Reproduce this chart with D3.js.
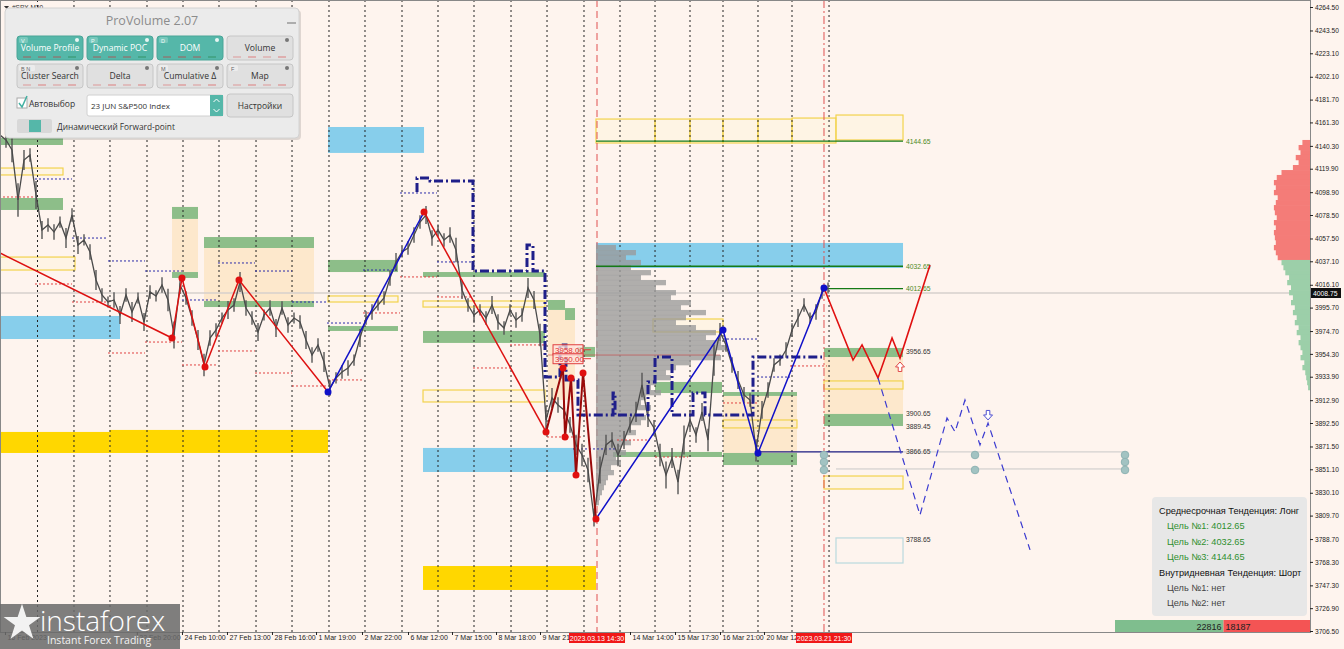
<!DOCTYPE html>
<html><head><meta charset="utf-8">
<script src="https://cdn.jsdelivr.net/npm/d3@7"></script>
<style>body{margin:0;background:#fef4ee;overflow:hidden}svg{display:block}</style>
</head><body><svg id="c" width="1344" height="649"></svg>
<script>
// ---------- DATA ----------
const yTicks=[4264.50,4243.50,4223.10,4202.10,4181.70,4161.30,4140.30,4119.90,4098.90,4078.50,4057.50,4037.10,4016.10,3995.70,3974.70,3954.30,3933.90,3912.90,3892.50,3871.50,3851.10,3830.10,3809.70,3788.70,3768.30,3747.30,3726.90,3706.50];
const timeTickPos=[0.83,22.8,30.33,37.83,45.33,52.67,60.33,68,75.33,82.67,90,105,112.5,120,127.33];
const timeTickText=["16 Feb 2023","22 Feb 20:00","24 Feb 10:00","27 Feb 13:00","28 Feb 16:00","1 Mar 19:00","2 Mar 22:00","6 Mar 12:00","7 Mar 15:00","8 Mar 18:00","9 Mar 21:00","14 Mar 14:00","15 Mar 17:30","16 Mar 21:00","20 Mar 12:00"];
const highlightPos=[99.5,137.33];
const highlightText=["2023.03.13 14:30","2023.03.21 21:30"];
const daySeps=[6.25,12.33,18.33,24.5,30.5,36.5,42.67,48.67,54.83,60.83,67,73,79,85.17,91.17,97.33,103.33,109.17,115,120.5,126.33,132,138.17];
const prices=[4150.0,4145.6,4136.6,4091.9,4127.7,4132.2,4096.4,4065.1,4069.6,4063.3,
4072.2,4057.9,4078.5,4051.7,4056.2,4045.4,4020.4,4007.0,4000.7,4002.5,
3989.1,4007.0,3991.8,4004.3,3982.8,4009.7,4006.1,4015.9,4002.5,3971.2,
4015.9,4004.3,3986.4,3966.7,3944.4,3968.5,3975.7,3986.4,3993.6,3998.0,
4018.6,3995.3,3986.4,3973.9,3989.1,3995.3,3977.5,3995.3,3980.1,3986.4,
3982.8,3966.7,3953.3,3962.3,3947.0,3923.8,3932.8,3938.1,3941.7,3948.8,
3968.5,3986.4,3991.8,3998.0,4004.3,4022.2,4036.5,4045.4,4049.0,4060.6,
4072.2,4078.5,4057.9,4065.1,4056.2,4060.6,4047.2,4011.4,3998.0,3989.1,
3993.6,3986.4,3998.0,3982.8,3977.5,3993.6,3984.6,3989.1,4013.2,4002.5,
3971.2,3895.2,3914.9,3908.6,3904.2,3890.8,3872.9,3863.9,3850.5,3808.0,
3850.5,3872.9,3877.3,3863.9,3877.3,3890.8,3902.4,3926.5,3897.0,3888.1,
3863.9,3846.0,3861.2,3839.7,3877.3,3895.2,3881.8,3902.4,3877.3,3948.8,
3974.0,3962.3,3944.4,3931.0,3917.6,3913.1,3868.0,3904.2,3922.0,3944.4,
3948.8,3957.8,3975.7,3986.4,3998.0,3986.4,3991.8,4009.7,4013.2];
const spreads=[10,14,22,30,18,12,25,16,12,14,
10,18,12,16,10,14,18,12,10,14,
16,12,18,10,16,12,10,14,20,24,
16,12,14,18,20,14,12,10,16,12,
18,14,12,16,10,14,16,12,14,10,
12,16,14,12,18,14,10,12,14,10,
16,12,14,10,12,14,16,10,12,14,
12,16,14,10,12,14,22,16,12,14,
10,12,16,14,12,10,14,12,18,16,
20,26,18,14,16,14,18,20,22,16,
24,18,14,20,16,14,18,22,16,14,
20,24,18,22,26,18,14,16,20,28,
16,12,14,16,14,12,20,16,14,12,
10,14,12,16,12,10,14,12,10];
const currentPrice=4008.75;
const greenZones=[[0,10.5,4147.4,4141.1],[0,10.5,4093.7,4083.0],[28.67,33,4085.7,4075.0],[28.67,33,4027.5,4022.2],[34,52.33,4058.8,4049.0],[34,52.33,4001.6,3996.2],[54.67,66.33,4038.3,4027.5],[54.67,66.33,3979.2,3974.8],[70.5,90.83,4027.5,4023.1],[70.5,90.83,3974.8,3964.1],[91.33,94.17,4002.5,3993.6],[94.17,95.83,3995.3,3984.6],[96.17,99.17,3960.5,3951.5],[109.17,120.33,3929.2,3919.3],[102.17,120.33,3866.6,3862.1],[120.5,132.83,3920.2,3916.7],[120.5,132.83,3865.7,3854.9],[137.33,150.5,3959.6,3951.5],[137.33,150.5,3900.6,3889.8]];
const beigeZones=[[28.67,33,4075.0,4027.5],[34,52.33,4049.0,4001.6],[91.33,95.83,3993.6,3913.1],[120.5,132.83,3916.7,3865.7],[137.33,150.5,3951.5,3900.6]];
const blueZones=[[0,20,3988.2,3967.6],[54.67,70.67,4157.2,4134.0],[70.5,95.83,3870.2,3848.7],[99.33,150.5,4053.5,4031.1]];
const goldZones=[[0,18.3,3884.5,3865.7],[18.3,54.67,3886.3,3865.7],[70.5,99.33,3764.6,3743.2]];
const yellowBoxes=[[0,10.5,4120.5,4114.3],[0,12.5,4040.9,4029.3],[54.67,66.33,4006.1,4000.7],[70.5,90.83,4001.6,3996.2],[70.5,90.83,3922.0,3911.3],[99.33,109.17,4164.3,4142.9],[109.17,115,4164.3,4142.9],[115,120.5,4164.3,4142.9],[120.5,126.33,4164.3,4142.9],[126.33,132,4164.3,4142.9],[132,139.33,4165.2,4142.9],[139.33,150.5,4167.9,4145.6],[108.83,120.5,3985.5,3973.9],[120.5,132.83,3895.2,3888.1],[137.33,150.5,3930.1,3922.9],[137.33,150.5,3845.1,3833.5]];
const lightBlueBoxes=[[139.33,150.5,3789.7,3767.3]];
const levelLines=[[99.33,150.5,4144.65],[99.33,150.5,4032.65],[137.33,150.5,4012.65]];
const navyLevel=[126.33,150.5,3866.65];
const greyExt=[[150.5,187.5,3866.65],[139.33,187.5,3851.4]];
const levelLabelVals=[4144.65,4032.65,4012.65,3956.65,3900.65,3889.45,3866.65,3788.65];
const levelLabelGreen=[true,true,true,false,false,false,false,false];
const tealDots=[[137.33,3863.9],[137.33,3857.6],[137.33,3850.5],[162.5,3863.9],[162.5,3850.5],[187.5,3863.9],[187.5,3857.6],[187.5,3850.5]];
const blueDotted=[[5.83,12,4110.7],[12,18,4057.9],[18,24.17,4037.4],[24.17,30.33,4028.4],[30.33,36.33,4002.5],[36.33,42.5,4035.6],[42.5,48.67,4028.4],[48.67,54.67,4000.7],[54.5,60.5,3981.9],[60.5,66.33,4029.3],[66.67,72.83,4098.2],[72.83,78.83,4036.5],[95.5,102.83,3869.3],[120.5,126.17,3967.6],[126.17,131.67,3933.6]];
const redDotted=[[0.5,5.83,4094.6],[5.83,12,4016.8],[12,18,4000.7],[18,24.17,3955.1],[24.17,30.33,3964.9],[30.33,36.33,3944.4],[36.33,42.5,3956.9],[42.5,48.67,3937.2],[48.67,54.67,3925.6],[54.67,60.5,3931.0],[60.5,66.67,3990.9],[66.67,72.83,4023.1],[72.83,78.83,4005.2],[78.83,85,3941.7],[85,91.17,3962.3],[91.17,97.17,3880.0],[131.67,137.83,3943.5],[102.83,108.33,3877.3],[109.17,114.67,3862.1],[120.5,126.17,3910.4]];
const redZig1=[[0,4044.5],[28.67,3968.5],[30.33,4022.2],[34.17,3942.6],[39.83,4020.4],[54.67,3920.2]];
const blueZig1=[[54.67,3920.2],[70.67,4081.2]];
const redZig2=[[70.67,4081.2],[91,3884.5]];
const darkZig=[[91,3884.5],[93.83,3941.7],[94.17,3880.0],[95.17,3932.8],[96,3846.0],[97.17,3937.2],[99.33,3806.7]];
const blueZig2=[[99.33,3806.7],[120.5,3975.7],[126.33,3865.7],[137.33,4013.2]];
const redDots=[[28.67,3968.5],[30.33,4022.2],[34.17,3942.6],[39.83,4020.4],[70.67,4081.2],[91,3884.5],[93.83,3941.7],[94.17,3880.0],[95.17,3932.8],[96,3846.0],[97.17,3937.2],[99.33,3806.7]];
const blueDots=[[54.67,3920.2],[120.5,3975.7],[126.33,3865.7],[137.33,4013.2]];
const projRed=[[137.33,4013.2],[142.17,3948.8],[143.67,3962.3],[146.33,3932.8],[148.67,3968.5],[150,3950.6],[155,4033.8]];
const projBlue=[[146.33,3932.8],[153.33,3810.3],[157.83,3897.0],[159.17,3884.5],[160.83,3913.1],[163.33,3872.9],[164.67,3892.5],[171.67,3779.0]];
const upArrow=[150,3942.6], downArrow=[164.67,3899.7];
const pocLine=[[69.5,4099.1],[69.5,4111.6],[71.67,4111.6],[71.67,4108.9],[78.83,4108.9],[78.83,4028.4],[87.83,4028.4],[87.83,4051.7],[88.83,4051.7],[88.83,4028.4],[90.83,4028.4],[90.83,3933.6],[93.33,3933.6],[93.33,3962.3],[94.33,3962.3],[94.33,3931.0],[96.33,3931.0],[96.33,3899.7],[102.17,3899.7],[102.17,3919.3],[102.5,3919.3],[102.5,3899.7],[108,3899.7],[108,3929.2],[109.17,3929.2],[109.17,3951.5],[112,3951.5],[112,3899.7],[115.5,3899.7],[115.5,3919.3],[117.5,3919.3],[117.5,3899.7],[125.5,3899.7],[125.5,3951.5],[137,3951.5]];
const pocRed=[91.33,120,3953.3];
const redTags=[3958.00,3950.00];
const vpPrices=[4051.7,4047.2,4042.8,4038.3,4033.8,4029.3,4024.9,4020.4,4015.9,4011.4,4007.0,4002.5,3998.0,3993.6,3989.1,3984.6,3980.1,3975.7,3971.2,3966.7,3962.3,3957.8,3953.3,3948.8,3944.4,3939.9,3935.4,3931.0,3926.5,3922.0,3917.6,3913.1,3908.6,3904.2,3899.7,3895.2,3890.8,3886.3,3881.8,3877.3,3872.9,3868.4,3863.9,3859.5,3855.0,3850.5,3846.0,3841.6,3837.1,3832.6,3828.2,3823.7];
const vpVol=[20,40,30,45,35,55,45,70,60,80,75,95,85,110,90,80,100,120,110,125,130,120,125,95,80,70,75,60,55,65,50,45,55,40,50,45,35,40,30,35,25,30,20,25,15,18,12,10,8,6,4,3];
const rightPrices=[4145.6,4141.1,4136.6,4132.2,4127.7,4123.2,4118.7,4114.3,4109.8,4105.3,4100.9,4096.4,4091.9,4087.4,4083.0,4078.5,4074.0,4069.6,4065.1,4060.6,4056.2,4051.7,4047.2,4042.8,4038.3,4033.8,4029.3,4024.9,4020.4,4015.9,4011.4,4007.0,4002.5,3998.0,3993.6,3989.1,3984.6,3980.1,3975.7,3971.2,3966.7,3962.3,3957.8,3953.3,3948.8,3944.4,3939.9,3935.4,3931.0,3926.5];
const rightVol=[8,12,10,15,12,18,30,35,38,36,38,34,36,38,37,35,38,36,38,37,36,38,36,34,30,28,26,22,24,20,22,18,20,16,18,14,16,12,14,10,12,10,8,10,6,8,5,4,3,2];
const buyVol=22816, sellVol=18187;
const infoLines=[["Среднесрочная Тенденция: Лонг","#111",0],["Цель №1: 4012.65","#2f8f2f",1],["Цель №2: 4032.65","#2f8f2f",1],["Цель №3: 4144.65","#2f8f2f",1],["Внутридневная Тенденция: Шорт","#111",0],["Цель №1: нет","#444",1],["Цель №2: нет","#444",1]];
const panelButtons=[{t:"Volume Profile",k:"V",on:1},{t:"Dynamic POC",k:"P",on:1},{t:"DOM",k:"D",on:1},{t:"Volume",k:"",on:0},{t:"Cluster Search",k:"B  N",on:0},{t:"Delta",k:"",on:0},{t:"Cumulative Δ",k:"M",on:0},{t:"Map",k:"F",on:0}];

// ---------- SETUP ----------
const svg=d3.select("#c");
const W=1310, H=632;
const x=d3.scaleLinear().domain([0,218.33]).range([0,W]);
const y=d3.scaleLinear().domain([3706.5,4264.5]).range([631,7]);
const F="Liberation Sans, Arial, sans-serif";
svg.append("rect").attr("width",1344).attr("height",649).attr("fill","#fef4ee");
const plot=svg.append("g");

function rects(data,fill,stroke,op){
  plot.append("g").selectAll("rect").data(data).join("rect")
   .attr("x",d=>x(d[0])).attr("width",d=>x(d[1])-x(d[0]))
   .attr("y",d=>y(d[2])).attr("height",d=>y(d[3])-y(d[2]))
   .attr("fill",fill).attr("stroke",stroke||"none").attr("stroke-width",1.2).attr("opacity",op||1);
}
rects(beigeZones,"#fde8cc");
rects(greenZones,"#8dbe89");
rects(blueZones,"#87ceeb");
rects(goldZones,"#ffd700");
rects(yellowBoxes,"rgba(255,245,200,0.25)","#f2d34d");
rects(lightBlueBoxes,"none","#b9d9de");

// day separators
plot.append("g").selectAll("line").data(daySeps).join("line")
 .attr("x1",d=>x(d)).attr("x2",d=>x(d)).attr("y1",0).attr("y2",H)
 .attr("stroke","#222").attr("stroke-width",1).attr("stroke-dasharray","2,3");
plot.append("line").attr("x1",x(highlightPos[0])).attr("x2",x(highlightPos[0])).attr("y1",0).attr("y2",H)
 .attr("stroke","#e05050").attr("stroke-dasharray","7,4");
plot.append("line").attr("x1",x(highlightPos[1])).attr("x2",x(highlightPos[1])).attr("y1",0).attr("y2",H)
 .attr("stroke","#e05050").attr("stroke-dasharray","8,3,2,3");

plot.append("line").attr("x1",0).attr("x2",W).attr("y1",y(currentPrice)).attr("y2",y(currentPrice))
 .attr("stroke","#d6d0cc").attr("stroke-width",1.6);

// volume profile
const vpx=d3.scaleLinear().domain([0,130]).range([0,130]);
plot.append("g").selectAll("rect").data(vpPrices).join("rect")
 .attr("x",x(99.33)).attr("y",d=>y(d)).attr("height",d=>y(d-4.47)-y(d)+0.3)
 .attr("width",(d,i)=>vpx(vpVol[i])).attr("fill","#9a9a9a").attr("opacity",0.78);
plot.append("line").attr("x1",x(pocRed[0])).attr("x2",x(pocRed[1])).attr("y1",y(pocRed[2])).attr("y2",y(pocRed[2]))
 .attr("stroke","#d04040").attr("stroke-width",0.8).attr("opacity",0.7);

function dotted(data,col){
  plot.append("g").selectAll("line").data(data).join("line")
   .attr("x1",d=>x(d[0])).attr("x2",d=>x(d[1])).attr("y1",d=>y(d[2])).attr("y2",d=>y(d[2]))
   .attr("stroke",col).attr("stroke-width",1).attr("stroke-dasharray","2,2");
}
dotted(blueDotted,"#2a2aa8"); dotted(redDotted,"#e04040");

plot.append("g").selectAll("line").data(levelLines).join("line")
 .attr("x1",d=>x(d[0])).attr("x2",d=>x(d[1])).attr("y1",d=>y(d[2])).attr("y2",d=>y(d[2]))
 .attr("stroke","#167a16").attr("stroke-width",1.3);
plot.append("g").selectAll("line").data(greyExt).join("line")
 .attr("x1",d=>x(d[0])).attr("x2",d=>x(d[1])).attr("y1",d=>y(d[2])).attr("y2",d=>y(d[2]))
 .attr("stroke","#c8c8c8").attr("stroke-width",1);
plot.append("line").attr("x1",x(navyLevel[0])).attr("x2",x(navyLevel[1])).attr("y1",y(navyLevel[2])).attr("y2",y(navyLevel[2]))
 .attr("stroke","#1a1a80").attr("stroke-width",1.4);
plot.append("g").selectAll("text").data(levelLabelVals).join("text")
 .attr("x",x(151)).attr("y",d=>y(d)+2.5).text(d=>d.toFixed(2))
 .attr("font-family",F).attr("font-size",6.8).attr("fill",(d,i)=>levelLabelGreen[i]?"#4e8a1e":"#333");

// price: bar ranges + close line
plot.append("g").selectAll("line").data(prices).join("line")
 .attr("x1",(d,i)=>x(i)).attr("x2",(d,i)=>x(i))
 .attr("y1",(d,i)=>y(d+spreads[i]/2)).attr("y2",(d,i)=>y(d-spreads[i]/2))
 .attr("stroke","#555").attr("stroke-width",1.4);
const line=d3.line().x(d=>x(d[0])).y(d=>y(d[1]));
plot.append("path").datum(prices.map((p,i)=>[i,p])).attr("d",line)
 .attr("fill","none").attr("stroke","#4a4a4a").attr("stroke-width",1.3);

plot.append("path").datum(pocLine).attr("d",line).attr("fill","none")
 .attr("stroke","#1f1f8a").attr("stroke-width",3).attr("stroke-dasharray","9,3,2,3");

function zz(data,col,w,dash){
  plot.append("path").datum(data).attr("d",line).attr("fill","none").attr("stroke",col)
   .attr("stroke-width",w).attr("stroke-dasharray",dash||null);
}
zz(redZig1,"#dd1111",1.5); zz(blueZig1,"#1010c8",1.5); zz(redZig2,"#dd1111",1.5);
zz(darkZig,"#9a0a0a",2); zz(blueZig2,"#1010c8",1.5);
zz(projRed,"#e01010",1.6); zz(projBlue,"#3a3ad0",1.2,"7,5");
plot.append("g").selectAll("circle").data(redDots).join("circle")
 .attr("cx",d=>x(d[0])).attr("cy",d=>y(d[1])).attr("r",3.5).attr("fill","#e01010");
plot.append("g").selectAll("circle").data(blueDots).join("circle")
 .attr("cx",d=>x(d[0])).attr("cy",d=>y(d[1])).attr("r",3.5).attr("fill","#1010c8");
const arr="M0,-5L4.5,0L1.8,0L1.8,4.5L-1.8,4.5L-1.8,0L-4.5,0Z";
plot.append("path").attr("d",arr).attr("transform",`translate(${x(upArrow[0])},${y(upArrow[1])})`)
 .attr("fill","#fff").attr("stroke","#e04848").attr("stroke-width",1);
plot.append("path").attr("d",arr).attr("transform",`translate(${x(downArrow[0])},${y(downArrow[1])}) rotate(180)`)
 .attr("fill","#fff").attr("stroke","#5050d0").attr("stroke-width",1);
plot.append("g").selectAll("circle").data(tealDots).join("circle")
 .attr("cx",d=>x(d[0])).attr("cy",d=>y(d[1])).attr("r",3.8).attr("fill","#a2c3c2").attr("stroke","#8fb3b3");
const tg=plot.append("g").selectAll("g").data(redTags).join("g");
tg.append("rect").attr("x",x(92.17)).attr("width",x(97.17)-x(92.17)).attr("y",d=>y(d)-5).attr("height",10)
 .attr("fill","rgba(255,225,220,0.75)").attr("stroke","#e04040");
tg.append("line").attr("x1",x(97.17)).attr("x2",x(98.5)).attr("y1",d=>y(d)).attr("y2",d=>y(d)).attr("stroke","#e04040");
tg.append("text").attr("x",x(92.17)+2).attr("y",d=>y(d)+3).text(d=>d.toFixed(2))
 .attr("font-family",F).attr("font-size",8).attr("fill","#e03030");

const rvx=d3.scaleLinear().domain([0,40]).range([0,38]);
plot.append("g").selectAll("rect").data(rightPrices).join("rect")
 .attr("x",(d,i)=>W-rvx(rightVol[i])).attr("width",(d,i)=>rvx(rightVol[i]))
 .attr("y",d=>y(d)).attr("height",d=>y(d-4.47)-y(d)+0.3)
 .attr("fill",d=>d>=4040?"#f47c78":"#9ccfa9");

// info box
svg.append("rect").attr("x",1152).attr("y",497).attr("width",155).attr("height",119).attr("rx",4).attr("fill","#e7e7e7");
svg.append("g").selectAll("text").data(infoLines).join("text")
 .attr("x",d=>d[2]?1167:1159).attr("y",(d,i)=>514+i*15.4).text(d=>d[0])
 .attr("font-family",F).attr("font-size",9.2).attr("fill",d=>d[1]);
const vx=d3.scaleLinear().domain([0,buyVol+sellVol]).range([0,195]);
svg.append("rect").attr("x",1115).attr("y",620).attr("width",vx(buyVol)).attr("height",12).attr("fill","#7fbe8e");
svg.append("rect").attr("x",1115+vx(buyVol)).attr("y",620).attr("width",vx(sellVol)).attr("height",12).attr("fill","#f45454");
svg.append("text").attr("x",1115+vx(buyVol)-2).attr("y",630).attr("text-anchor","end").text(buyVol)
 .attr("font-family",F).attr("font-size",9).attr("fill","#222");
svg.append("text").attr("x",1115+vx(buyVol)+2).attr("y",630).text(sellVol)
 .attr("font-family",F).attr("font-size",9).attr("fill","#222");

// axes
svg.append("line").attr("x1",W+0.5).attr("x2",W+0.5).attr("y1",0).attr("y2",H).attr("stroke","#222");
svg.append("line").attr("x1",0).attr("x2",W).attr("y1",H+0.5).attr("y2",H+0.5).attr("stroke","#222");
svg.append("rect").attr("x",0.5).attr("y",0.5).attr("width",W).attr("height",H).attr("fill","none").attr("stroke","#888");
const ya=svg.append("g").attr("transform",`translate(${W},0)`)
 .call(d3.axisRight(y).tickValues(yTicks).tickFormat(d3.format(".2f")).tickSize(3).tickPadding(2));
ya.select(".domain").remove();
ya.selectAll("text").attr("font-family",F).attr("font-size",6.6).attr("fill","#222");
ya.selectAll("line").attr("stroke","#222");
svg.append("rect").attr("x",W+1).attr("y",y(currentPrice)-5).attr("width",30).attr("height",10).attr("fill","#111");
svg.append("text").attr("x",W+3).attr("y",y(currentPrice)+2.5).text(currentPrice.toFixed(2))
 .attr("font-family",F).attr("font-size",6.8).attr("fill","#fff");

const xa=svg.append("g").attr("transform",`translate(0,${H})`)
 .call(d3.axisBottom(x).tickValues(timeTickPos).tickFormat((d,i)=>timeTickText[i]).tickSize(3));
xa.select(".domain").remove();
xa.selectAll("text").attr("text-anchor","start").attr("x",2).attr("y",3).attr("dy","0.71em")
 .attr("font-family",F).attr("font-size",7).attr("fill","#222");
xa.selectAll("line").attr("stroke","#222");
const hl=svg.append("g").selectAll("g").data(highlightPos).join("g");
hl.append("rect").attr("x",d=>x(d)-28).attr("y",H+1).attr("width",56).attr("height",10).attr("fill","#f01818");
hl.append("text").attr("x",d=>x(d)).attr("y",H+9).attr("text-anchor","middle").text((d,i)=>highlightText[i])
 .attr("font-family",F).attr("font-size",7).attr("fill","#fff");

svg.append("path").attr("d","M4,6L9,6L6.5,9Z").attr("fill","#333");
svg.append("text").attr("x",12).attr("y",10).text("#SPX,M30").attr("font-family",F).attr("font-size",6.5).attr("fill","#333");

// ProVolume panel
const P=svg.append("g");
P.append("rect").attr("x",7).attr("y",10).attr("width",294).attr("height",130).attr("rx",4).attr("fill","rgba(0,0,0,0.12)");
P.append("rect").attr("x",5).attr("y",8).attr("width",294).attr("height",130).attr("rx",4).attr("fill","#ebebeb").attr("stroke","#d2d2d2");
P.append("text").attr("x",152).attr("y",25).attr("text-anchor","middle").text("ProVolume 2.07")
 .attr("font-family","Open Sans, sans-serif").attr("font-size",12.5).attr("fill","#8c8c8c");
P.append("line").attr("x1",287).attr("x2",296).attr("y1",23).attr("y2",23).attr("stroke","#999").attr("stroke-width",1.5);
panelButtons.forEach((b,i)=>{
  const c=i%4, r=Math.floor(i/4), bx=17+c*70, by=36+r*28;
  const g=P.append("g");
  g.append("rect").attr("x",bx).attr("y",by).attr("width",66).attr("height",24).attr("rx",3)
   .attr("fill",b.on?"#55b7a9":"#e0e0e0").attr("stroke",b.on?"#4aa597":"#c6c6c6");
  if(b.k){g.append("rect").attr("x",bx+2).attr("y",by+1).attr("width",b.k.length>1?16:9).attr("height",6).attr("rx",1.5)
   .attr("fill",b.on?"#78c8bc":"#ececec");
   g.append("text").attr("x",bx+4).attr("y",by+6.5).text(b.k).attr("font-family",F).attr("font-size",5.5).attr("fill",b.on?"#eefaf8":"#666");}
  g.append("circle").attr("cx",bx+60).attr("cy",by+4).attr("r",2).attr("fill",b.on?"#e8f5f3":"#777");
  g.append("text").attr("x",bx+33).attr("y",by+15).attr("text-anchor","middle").text(b.t)
   .attr("font-family","Open Sans, sans-serif").attr("font-size",8.6).attr("fill",b.on?"#fff":"#333");
  for(let k=0;k<4;k++){
    g.append("line").attr("x1",bx+6+k*15).attr("x2",bx+14+k*15).attr("y1",by+21).attr("y2",by+21)
     .attr("stroke",b.on?(k===3?"#2e8b57":"#b84a4a"):(k%2?"#d66":"#d88")).attr("stroke-width",1).attr("opacity",0.8);
  }
});
P.append("rect").attr("x",17).attr("y",98).attr("width",10).attr("height",10).attr("fill","#fff").attr("stroke","#aaa");
P.append("path").attr("d","M19,103L22,107L27,96").attr("fill","none").attr("stroke","#43b0a2").attr("stroke-width",1.5);
P.append("text").attr("x",29).attr("y",107).text("Автовыбор").attr("font-family","Open Sans, sans-serif").attr("font-size",8.5).attr("fill","#333");
P.append("rect").attr("x",87).attr("y",95).attr("width",136).attr("height",21).attr("rx",2).attr("fill","#fff").attr("stroke","#d0d0d0");
P.append("text").attr("x",91).attr("y",109).text("23 JUN S&P500 Index").attr("font-family","Open Sans, sans-serif").attr("font-size",8).attr("fill","#333");
P.append("rect").attr("x",210).attr("y",95).attr("width",13).attr("height",21).attr("fill","#55b7a9");
P.append("path").attr("d","M213.5,102L216.5,99L219.5,102M213.5,109L216.5,112L219.5,109").attr("fill","none").attr("stroke","#fff");
P.append("rect").attr("x",227).attr("y",94).attr("width",66).attr("height",23).attr("rx",3).attr("fill","#e0e0e0").attr("stroke","#c6c6c6");
P.append("text").attr("x",260).attr("y",109).attr("text-anchor","middle").text("Настройки").attr("font-family","Open Sans, sans-serif").attr("font-size",8.5).attr("fill","#333");
P.append("rect").attr("x",17).attr("y",119).attr("width",35).attr("height",14).attr("rx",2).attr("fill","#d8d8d8");
P.append("rect").attr("x",29).attr("y",120).attr("width",12).attr("height",12).attr("fill","#55b7a9");
P.append("text").attr("x",57).attr("y",130).text("Динамический Forward-point").attr("font-family","Open Sans, sans-serif").attr("font-size",8.3).attr("fill","#333");

// instaforex logo
const L=svg.append("g");
L.append("rect").attr("x",0).attr("y",604).attr("width",180).attr("height",45).attr("fill","#6a6a6a").attr("opacity",0.86);
L.append("path").attr("d",d3.symbol(d3.symbolStar,420)()).attr("transform","translate(22,623)").attr("fill","#fff").attr("opacity",0.9);
L.append("text").attr("x",40).attr("y",631).text("instaforex").attr("font-family","Open Sans, sans-serif").attr("font-weight",300)
 .attr("font-size",28).attr("fill","#fff");
L.append("text").attr("x",47).attr("y",644).text("Instant Forex Trading").attr("font-family","Open Sans, sans-serif")
 .attr("font-size",10.5).attr("fill","#f2f2f2");
</script></body></html>
